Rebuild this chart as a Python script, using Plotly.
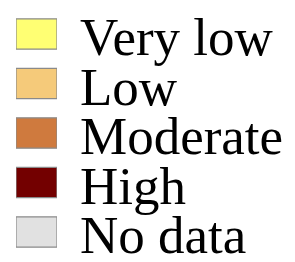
import plotly.graph_objects as go

categories = ["Very low", "Low", "Moderate", "High", "No data"]
colors = ["#FFFF73", "#F5CA7A", "#CF7A3E", "#730000", "#E1E1E1"]
values = [1, 1, 1, 1, 1]

SERIF = "Liberation Serif"
FONT_SIZE = 53
LABEL_X = 1.51  # paper units: label column just right of the swatches

fig = go.Figure(go.Bar(
    x=values, y=categories, orientation="h",
    marker=dict(color=colors, line=dict(color="#8a8a8a", width=1.2)),
    hoverinfo="skip",
))

for cat in categories:
    fig.add_annotation(
        x=LABEL_X, xref="paper", y=cat, yref="y", text=cat,
        showarrow=False, xanchor="left", yanchor="middle", yshift=-3,
        font=dict(family=SERIF, size=FONT_SIZE, color="black"),
    )

fig.update_layout(
    width=295, height=262,
    margin=dict(l=16, r=238, t=0, b=2),
    paper_bgcolor="white", plot_bgcolor="white",
    bargap=0.385, showlegend=False,
    font=dict(family=SERIF, size=FONT_SIZE, color="black"),
)
fig.update_xaxes(range=[0, 1], visible=False, fixedrange=True)
fig.update_yaxes(
    autorange="reversed", showgrid=False, showline=False, zeroline=False,
    showticklabels=False, ticks="", automargin=False, fixedrange=True,
)
fig.write_html("out.html", config={"displayModeBar": False},
               post_script="document.body.style.margin='0';")
